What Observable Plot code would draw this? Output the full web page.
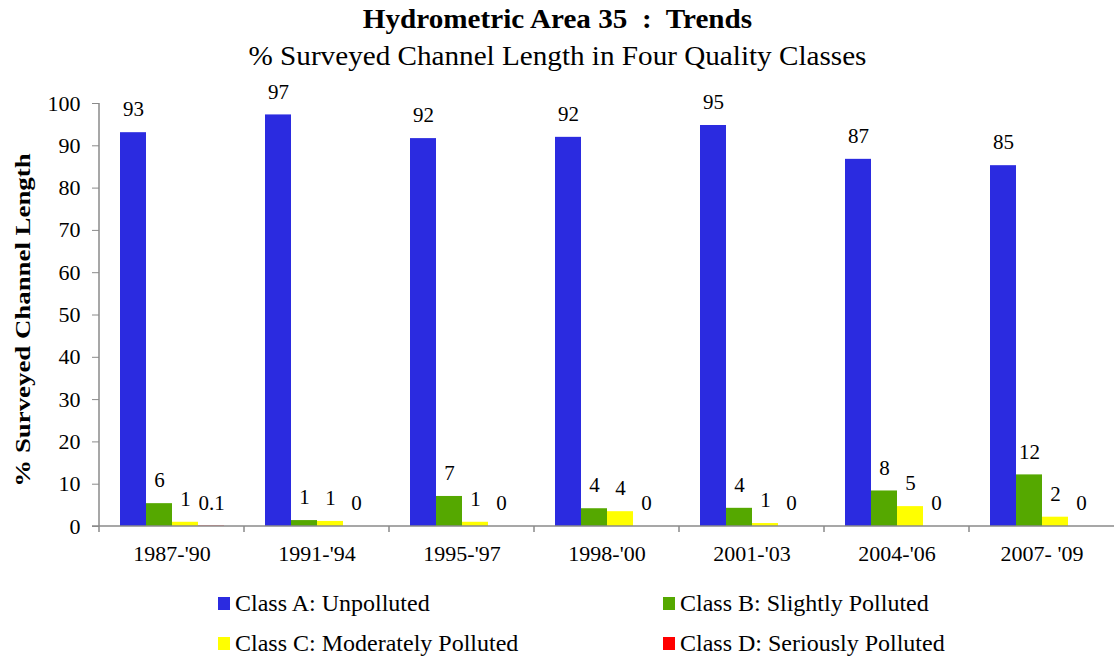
<!DOCTYPE html>
<html><head><meta charset="utf-8">
<script src="https://cdn.jsdelivr.net/npm/d3@7"></script>
<script src="https://cdn.jsdelivr.net/npm/@observablehq/plot@0.6"></script>
<style>
body{margin:0;background:#fff;font-family:"Liberation Serif","Times New Roman",serif;color:#000;}
#wrap{position:relative;width:1115px;height:661px;overflow:hidden;background:#fff}
#title{position:absolute;left:0;width:1115px;top:3px;text-align:center;font-weight:bold;font-size:27px;line-height:32px;transform:scaleX(1.08);z-index:2}
#subtitle{position:absolute;left:0;width:1115px;top:40px;text-align:center;font-size:27px;line-height:32px;transform:scaleX(1.08);z-index:2}
#ylabel{position:absolute;left:23px;top:320px;transform:translate(-50%,-50%) rotate(-90deg) scaleX(1.22);font-weight:bold;font-size:22px;white-space:nowrap;z-index:2}
#chart{position:absolute;left:0;top:76px;z-index:1}
#chart svg text, #chart svg g[aria-label] {font-family:"Liberation Serif","Times New Roman",serif !important;}
.item{position:absolute;display:flex;align-items:center;font-size:24px;white-space:nowrap;height:40px;z-index:2}
.sw{width:12px;height:13px;margin-right:5px}
</style></head>
<body><div id="wrap">
<div id="chart"></div>
<div id="title">Hydrometric Area 35&nbsp; :&nbsp; Trends</div>
<div id="subtitle">% Surveyed Channel Length in Four Quality Classes</div>
<div id="ylabel">% Surveyed Channel Length</div>
<div id="legend"></div>
</div>
<script>
const categories = ["1987-'90","1991-'94","1995-'97","1998-'00","2001-'03","2004-'06","2007- '09"];
const classes = ["Class A: Unpolluted","Class B: Slightly Polluted","Class C: Moderately Polluted","Class D: Seriously Polluted"];
const classColors = ["#2b2be0","#55a800","#ffff00","#ff0000"];
const classA = [93.1,97.3,91.7,92.0,94.8,86.8,85.3];
const classB = [5.4,1.4,7.1,4.2,4.3,8.4,12.2];
const classC = [1.0,1.2,1.0,3.5,0.7,4.7,2.2];
const classD = [0.1,0,0,0,0,0,0];
const labelsA = ["93","97","92","92","95","87","85"];
const labelsB = ["6","1","7","4","4","8","12"];
const labelsC = ["1","1","1","4","1","5","2"];
const labelsD = ["0.1","0","0","0","0","0","0"];
const yTicks = [0,10,20,30,40,50,60,70,80,90,100];

const series = [classA, classB, classC, classD];
const seriesLabels = [labelsA, labelsB, labelsC, labelsD];
const rows = [];
categories.forEach((p, i) => classes.forEach((c, j) => rows.push({period: p, cls: c, value: series[j][i], label: seriesLabels[j][i]})));

const serif = '"Liberation Serif", "Times New Roman", serif';
const axisGray = "#8a8a8a";
const plot = Plot.plot({
  width: 1115, height: 496,
  marginLeft: 97, marginRight: 0, marginTop: 27, marginBottom: 46,
  style: {fontFamily: serif, fontSize: "22px", background: "transparent", color: "black"},
  fx: {domain: categories, padding: 0, axis: "bottom", label: null, tickSize: 0, tickPadding: 19},
  x: {domain: classes, paddingInner: 0, paddingOuter: 0.74, axis: null},
  y: {domain: [0, 100], ticks: yTicks, label: null, tickSize: 7, tickPadding: 12},
  color: {domain: classes, range: classColors},
  marks: [
    Plot.barY(rows, {fx: "period", x: "cls", y: "value", fill: "cls"}),
    Plot.text(rows, {fx: "period", x: "cls", y: "value", text: "label", dy: -23, fontSize: 21, fontFamily: serif, lineAnchor: "middle", fill: "black"})
  ]
});
document.getElementById("chart").appendChild(plot);
d3.select(plot).selectAll("[aria-label='y-axis tick-label'] text, [aria-label='y-axis tick-label']").style("font-size", "20px");

// axis lines and boundary ticks, placed through the plot's own scales
const fx = plot.scale("fx"), y = plot.scale("y");
const svg = d3.select(plot);
const g = svg.append("g").attr("stroke", axisGray).attr("stroke-width", 1.5).attr("fill", "none");
const x0 = fx.apply(categories[0]);
const xEnd = fx.apply(categories[categories.length - 1]) + fx.bandwidth;
g.append("line").attr("x1", x0).attr("x2", x0).attr("y1", y.apply(0)).attr("y2", y.apply(100));
g.append("line").attr("x1", x0 - 7).attr("x2", xEnd).attr("y1", y.apply(0)).attr("y2", y.apply(0));
categories.forEach((c) => {
  const xx = fx.apply(c);
  g.append("line").attr("x1", xx).attr("x2", xx).attr("y1", y.apply(0)).attr("y2", y.apply(0) + 6);
});
svg.selectAll("[aria-label='y-axis tick'] path, [aria-label='y-axis tick'] line, [aria-label='y-axis tick']").attr("stroke", axisGray);

// legend
const legendPos = [[218, 583], [663, 583], [218, 623], [663, 623]];
const legend = document.getElementById("legend");
classes.forEach((c, i) => {
  const d = document.createElement("div");
  d.className = "item";
  d.style.left = legendPos[i][0] + "px"; d.style.top = legendPos[i][1] + "px";
  d.innerHTML = `<span class="sw" style="background:${classColors[i]}"></span><span>${c}</span>`;
  legend.appendChild(d);
});
</script>
</body></html>
